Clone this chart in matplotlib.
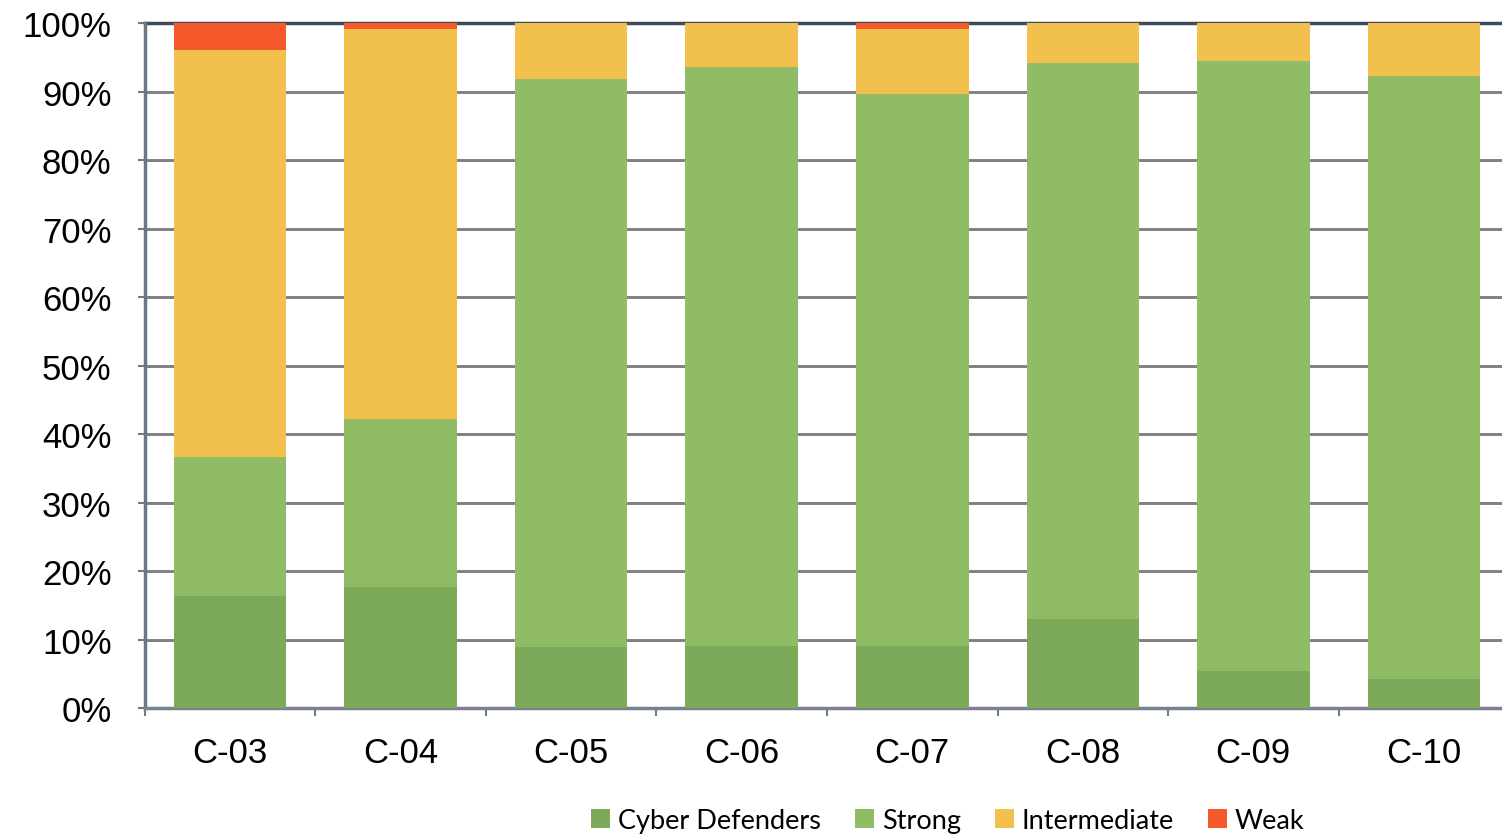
import numpy as np
import matplotlib.pyplot as plt

# share of each level per cohort, in percent
cohorts = ["C-03", "C-04", "C-05", "C-06", "C-07", "C-08", "C-09", "C-10"]
cyber_defenders = [16.4, 17.6, 8.9, 9.0, 9.0, 13.0, 5.4, 4.2]
strong = [20.2, 24.6, 82.9, 84.6, 80.6, 81.2, 89.1, 88.0]
intermediate = [59.4, 56.9, 8.2, 6.4, 9.6, 5.8, 5.5, 7.8]
weak = [4.0, 0.9, 0.0, 0.0, 0.8, 0.0, 0.0, 0.0]

series = [
    ("Cyber Defenders", cyber_defenders, "#7caa58"),
    ("Strong", strong, "#8fbc65"),
    ("Intermediate", intermediate, "#f2c04d"),
    ("Weak", weak, "#f4582b"),
]

plt.rcParams["font.family"] = ["Liberation Sans", "DejaVu Sans"]

fig = plt.figure(figsize=(15.02, 8.37), dpi=100)
ax = fig.add_axes([0.0965, 0.1529, 0.9082, 0.8184])

x = np.arange(len(cohorts))
bottom = np.zeros(len(cohorts))
for name, vals, color in series:
    vals = np.array(vals)
    ax.bar(x, vals, bottom=bottom, width=0.66, color=color, label=name, zorder=3)
    bottom += vals

ax.set_xlim(-0.5, len(cohorts) - 0.5)
ax.set_ylim(0, 100)
ax.set_yticks(np.arange(0, 101, 10))
ax.set_yticklabels([f"{v}%" for v in range(0, 101, 10)])
ax.yaxis.grid(True, color="#808080", linewidth=2.1, zorder=0)

ax.set_xticks(x)
ax.set_xticklabels(cohorts)
ax.set_xticks(np.arange(-0.5, len(cohorts)), minor=True)
ax.tick_params(axis="x", which="major", length=0, pad=20, labelsize=25)
ax.tick_params(axis="x", which="minor", length=6, width=1.5, color="#6f7a86")
ax.tick_params(axis="y", length=5, width=1.5, color="#6f7a86", pad=19, labelsize=25)

ax.spines["right"].set_visible(False)
ax.spines["top"].set_color("#3d4b5c")
ax.spines["top"].set_linewidth(2.5)
ax.spines["left"].set_color("#6a7886")
ax.spines["left"].set_linewidth(2.5)
ax.spines["bottom"].set_color("#7a8290")
ax.spines["bottom"].set_linewidth(2.5)
ax.spines["top"].set_zorder(2)

fig.legend(loc="center", bbox_to_anchor=(0.631, 0.018), ncol=4, frameon=False,
           handlelength=0.7, handleheight=0.7, handletextpad=0.3, columnspacing=1.25,
           prop={"family": "Lato", "size": 19.5})

fig.savefig("out.png", dpi=100)
